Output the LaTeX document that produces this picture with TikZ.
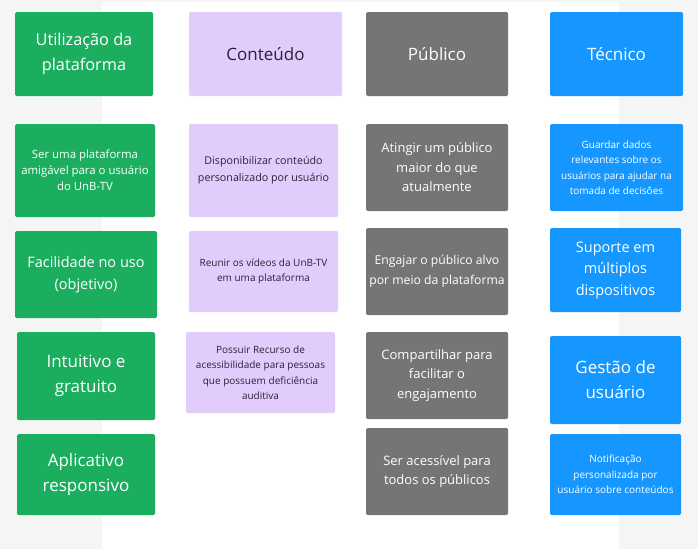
\documentclass[tikz,border=0pt]{standalone}
\usepackage{fontspec}
\setmainfont{Open Sans}
\definecolor{bggray}{HTML}{F5F5F6}
\definecolor{cgreen}{HTML}{1BAE5F}
\definecolor{cpurple}{HTML}{E2CCFC}
\definecolor{cgray}{HTML}{757575}
\definecolor{cblue}{HTML}{1597FF}
\definecolor{ptext}{HTML}{2A2238}
\tikzset{
  card/.style={rounded corners=1.5pt, inner sep=1pt, align=center, anchor=center},
  gcard/.style={card, fill=cgreen, text=white},
  pcard/.style={card, fill=cpurple, text=ptext},
  kcard/.style={card, fill=cgray, text=white},
  bcard/.style={card, fill=cblue, text=white},
  fbig/.style={font=\fontsize{17}{25}\selectfont},
  fhead/.style={font=\fontsize{16.3}{25}\selectfont},
  fmed/.style={font=\fontsize{14.5}{21.5}\selectfont},
  fmid/.style={font=\fontsize{13}{19.5}\selectfont},
  fmids/.style={font=\fontsize{12.2}{19.5}\selectfont},
  fsm/.style={font=\fontsize{11.4}{16}\selectfont},
  fsmp/.style={font=\fontsize{10.7}{17}\selectfont},
  fxs/.style={font=\fontsize{10}{15.5}\selectfont},
}
\begin{document}
\begin{tikzpicture}[x=1pt,y=-1pt]
\useasboundingbox (0,0) rectangle (698,549);
\fill[bggray] (0,0) rectangle (698,549);
\fill[white] (102,2) rectangle (619,549);
% green column
\node[gcard,fhead,minimum width=138pt,minimum height=84pt] (g0) at (84,54) {Utilização da\\plataforma};
\node[gcard,fsm,minimum width=140pt,minimum height=93pt] (g1) at (85,170.5) {Ser uma plataforma\\amigável para o usuário\\do UnB-TV};
\node[gcard,fmed,minimum width=142pt,minimum height=87pt] (g2) at (86,274.5) {Facilidade no uso\\(objetivo)};
\node[gcard,fbig,minimum width=138pt,minimum height=88pt] (g3) at (86,376) {Intuitivo e\\gratuito};
\node[gcard,fbig,minimum width=138pt,minimum height=81pt] (g4) at (86,474.5) {Aplicativo\\responsivo};
% purple column
\node[pcard,fbig,minimum width=153pt,minimum height=84pt] (p0) at (265.5,54) {Conteúdo};
\node[pcard,fsmp,minimum width=149pt,minimum height=93pt] (p1) at (263.5,170.5) {Disponibilizar conteúdo\\personalizado por usuário};
\node[pcard,fxs,minimum width=149pt,minimum height=81pt] (p2) at (263.5,271.5) {Reunir os vídeos da UnB-TV\\em uma plataforma};
\node[pcard,fxs,minimum width=149pt,minimum height=81pt] (p3) at (260.5,372.5) {Possuir Recurso de\\acessibilidade para pessoas\\que possuem deficiência\\auditiva};
% gray column
\node[kcard,fbig,minimum width=142pt,minimum height=84pt] (k0) at (437,54) {Público};
\node[kcard,fmid,minimum width=142pt,minimum height=87pt] (k1) at (437,167.5) {Atingir um público\\maior do que\\atualmente};
\node[kcard,fmids,minimum width=142pt,minimum height=87pt] (k2) at (437,271.5) {Engajar o público alvo\\por meio da plataforma};
\node[kcard,fmid,minimum width=142pt,minimum height=87pt] (k3) at (437,375.5) {Compartilhar para\\facilitar o\\engajamento};
\node[kcard,fmid,minimum width=142pt,minimum height=87pt] (k4) at (437,471.5) {Ser acessível para\\todos os públicos};
% blue column
\node[bcard,fbig,minimum width=133pt,minimum height=84pt] (b0) at (616.5,54) {Técnico};
\node[bcard,fxs,minimum width=133pt,minimum height=87pt] (b1) at (616.5,167.5) {Guardar dados\\relevantes sobre os\\usuários para ajudar na\\tomada de decisões};
\node[bcard,fmed,minimum width=131pt,minimum height=84pt] (b2) at (615.5,270) {Suporte em\\múltiplos\\dispositivos};
\node[bcard,fbig,minimum width=131pt,minimum height=88pt] (b3) at (615.5,380) {Gestão de\\usuário};
\node[bcard,fxs,minimum width=131pt,minimum height=81pt] (b4) at (615.5,474.5) {Notificação\\personalizada por\\usuário sobre conteúdos};
\end{tikzpicture}
\end{document}
